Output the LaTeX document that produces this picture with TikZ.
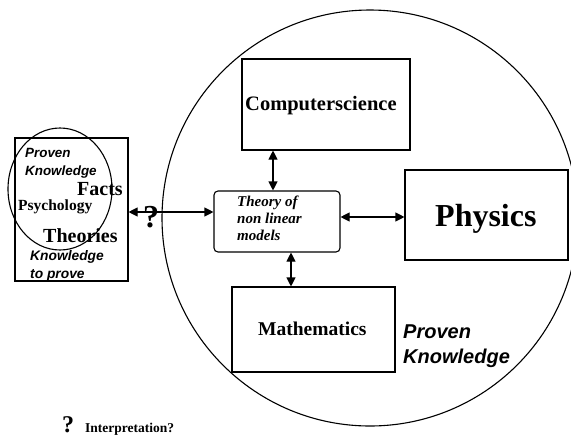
\documentclass[tikz,border=0pt]{standalone}
\usepackage{fontspec}
\setmainfont{Liberation Serif}
\setsansfont{Liberation Sans}
\usetikzlibrary{arrows.meta,positioning}

\begin{document}
\begin{tikzpicture}[
    x=1pt, y=-1pt,
    box/.style={rectangle, draw, line width=1.1pt, inner sep=0pt},
    link/.style={{Triangle[length=9pt,width=9pt]}-{Triangle[length=9pt,width=9pt]}, line width=1.1pt},
    sfnote/.style={font=\sffamily\bfseries\itshape, align=left, inner sep=0pt, anchor=base west},
    word/.style={font=\bfseries, inner sep=0pt, anchor=base west}
]

\useasboundingbox (0,0) rectangle (571,440);
\clip (0,0) rectangle (571,440);

% Proven knowledge - big circle
\draw[line width=1.1pt] (370,218) circle (208pt);

% Boxes (multi-line texts sit on their last baseline)
\node[box, minimum width=168pt, minimum height=91pt] (cs) at (326,104.5) {};
\node[word, font=\bfseries\fontsize{20.5}{22}\selectfont] (cstxt) at (245,110) {Computerscience};
\node[box, rounded corners=4pt, minimum width=126pt, minimum height=61pt] (theory) at (277,221.5) {};
\node[word, font=\bfseries\itshape\fontsize{15}{16.7}\selectfont, align=left]
    (theorytxt) at (237,240) {Theory of\\non linear\\models};
\node[box, minimum width=163pt, minimum height=90pt] (phys) at (486.5,215) {};
\node[word, font=\bfseries\fontsize{32}{34}\selectfont] (phystxt) at (435,226) {Physics};
\node[box, minimum width=163pt, minimum height=85pt] (math) at (313.5,329.5) {};
\node[word, font=\bfseries\fontsize{19.5}{21}\selectfont] (mathtxt) at (258,335) {Mathematics};
\node[sfnote, font=\sffamily\bfseries\itshape\fontsize{20}{25}\selectfont]
    (proven) at (403,363) {Proven\\Knowledge};

% Psychology - box and ellipse
\node[box, minimum width=113pt, minimum height=143pt] (psy) at (71.5,209.5) {};
\draw[line width=1.1pt] (60,189) ellipse (52pt and 61pt);
\node[sfnote, font=\sffamily\bfseries\itshape\fontsize{13.4}{18}\selectfont]
    (provenl) at (25,175) {Proven\\Knowledge};
\node[word, font=\bfseries\fontsize{20}{22}\selectfont] (facts) at (77,195) {Facts};
\node[word, font=\bfseries\fontsize{15.5}{17}\selectfont] (psych) at (18,210) {Psychology};
\node[word, font=\bfseries\fontsize{20}{22}\selectfont] (theories) at (43,242) {Theories};
\node[sfnote, font=\sffamily\bfseries\itshape\fontsize{13.8}{18}\selectfont]
    (toprove) at (30,278) {Knowledge\\to prove};

% Connections
\draw[link] ([yshift=-2.5pt]psy.east) -- ([yshift=9.5pt]theory.west);
\node[word, font=\bfseries\fontsize{32}{34}\selectfont] (ask) at (143,227) {?};
\draw[link] ([xshift=-53pt]cs.south) -- ([xshift=-4pt]theory.north);
\draw[link] ([yshift=4.5pt]theory.east) -- ([yshift=-2pt]phys.west);
\draw[link] ([xshift=14pt]theory.south) -- ([xshift=-22.5pt]math.north);

% Legend
\node[word, font=\bfseries\fontsize{24}{26}\selectfont] (legq) at (62,432) {?};
\node[word, font=\bfseries\fontsize{13.5}{15}\selectfont] (legtxt) at (85,432) {Interpretation?};

\end{tikzpicture}
\end{document}
